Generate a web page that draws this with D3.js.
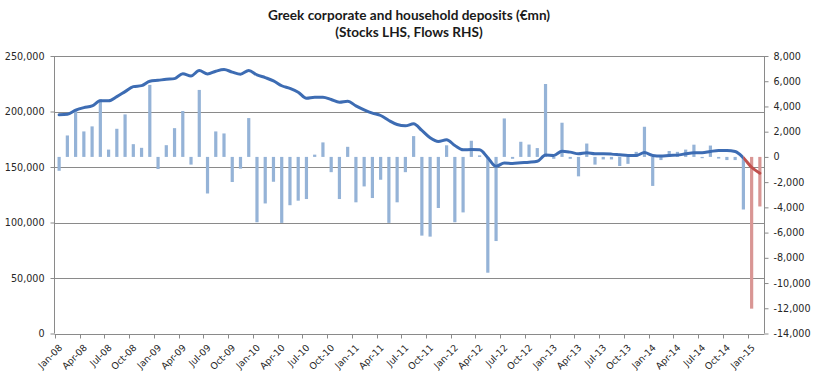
<!DOCTYPE html>
<html>
<head>
<meta charset="utf-8">
<script src="https://cdn.jsdelivr.net/npm/d3@7"></script>
<style>
  html, body { margin: 0; padding: 0; background: #fff; }
  svg { display: block; }
</style>
</head>
<body>
<svg id="chart" width="819" height="381"></svg>
<script>
// ---------------- DATA ----------------
const months = [
  "Jan-08","Feb-08","Mar-08","Apr-08","May-08","Jun-08","Jul-08","Aug-08","Sep-08","Oct-08","Nov-08","Dec-08",
  "Jan-09","Feb-09","Mar-09","Apr-09","May-09","Jun-09","Jul-09","Aug-09","Sep-09","Oct-09","Nov-09","Dec-09",
  "Jan-10","Feb-10","Mar-10","Apr-10","May-10","Jun-10","Jul-10","Aug-10","Sep-10","Oct-10","Nov-10","Dec-10",
  "Jan-11","Feb-11","Mar-11","Apr-11","May-11","Jun-11","Jul-11","Aug-11","Sep-11","Oct-11","Nov-11","Dec-11",
  "Jan-12","Feb-12","Mar-12","Apr-12","May-12","Jun-12","Jul-12","Aug-12","Sep-12","Oct-12","Nov-12","Dec-12",
  "Jan-13","Feb-13","Mar-13","Apr-13","May-13","Jun-13","Jul-13","Aug-13","Sep-13","Oct-13","Nov-13","Dec-13",
  "Jan-14","Feb-14","Mar-14","Apr-14","May-14","Jun-14","Jul-14","Aug-14","Sep-14","Oct-14","Nov-14","Dec-14",
  "Jan-15","Feb-15"
];

// Stocks (LHS, EUR mn)
const stocks = [
  197000,197500,201200,203500,205000,209600,209600,213400,217900,222400,223300,227300,
  228100,229000,229600,234000,232000,236900,233800,236300,237800,235500,233600,236900,
  233000,230500,227600,223200,220800,217400,212000,212900,212900,210800,208400,209300,
  205100,201500,198500,196400,191900,188300,187100,188900,182900,176300,173000,174500,
  169400,165500,165700,165500,158300,150600,153700,153200,153800,154300,155100,160700,
  160400,164300,163400,161900,162800,161900,161900,161600,161000,160400,160400,163000,
  160400,159800,160400,160700,161900,162800,162800,164000,164900,164900,164000,158300,
  149800,144400
];

// Flows (RHS, EUR mn)
const flows = [
  -1100,1700,3690,2020,2420,4570,580,2230,3370,1010,720,5710,
  -960,930,2280,3640,-610,5310,-2900,2020,1860,-1990,-930,3080,
  -5180,-3690,-1970,-5230,-3830,-3470,-3340,180,1150,-1210,-3340,800,
  -3600,-2340,-3260,-1810,-5230,-3600,-1210,1650,-6240,-6320,-4050,920,
  -5180,-4400,1280,120,-9180,-6670,3050,-150,1200,980,700,5780,
  -150,2710,-150,-1540,1060,-610,-200,-200,-720,-550,400,2390,
  -2300,-250,470,400,580,970,-100,900,-130,-250,-250,-4170,
  -12030,-3930
];

// months drawn in red (latest observations)
const highlighted = ["Jan-15","Feb-15"];
const lineHighlightFrom = "Dec-14";

const xTickLabels = months.filter((m, i) => i % 3 === 0);
const leftTicks = [0, 50000, 100000, 150000, 200000, 250000];
const rightTicks = [-14000,-12000,-10000,-8000,-6000,-4000,-2000,0,2000,4000,6000,8000];

const titleLines = ["Greek corporate and household deposits (\u20ACmn)", "(Stocks LHS, Flows RHS)"];

// ---------------- CHART ----------------
const svg = d3.select("#chart");
const plot = { left: 55, right: 764, top: 56, bottom: 333.5 };

const fmt = d3.formatLocale({decimal: ".", thousands: ",", grouping: [3], currency: ["", ""], minus: "-"}).format(",");

const x = d3.scaleBand().domain(months).range([plot.left, plot.right]).paddingInner(0).paddingOuter(0);
const cx = m => x(m) + x.bandwidth() / 2;
const yL = d3.scaleLinear().domain([0, 250000]).range([plot.bottom, plot.top]);
const yR = d3.scaleLinear().domain([-14000, 8000]).range([plot.bottom, plot.top]);

const gridColor = "#8a8a8a";
const textColor = "#262626";
const fontFam = "'DejaVu Sans', Verdana, sans-serif";

// Title
svg.append("g").selectAll("text").data(titleLines).join("text")
  .attr("x", 409).attr("y", (d, i) => 20 + i * 16.5)
  .attr("text-anchor", "middle")
  .style("font-family", "Lato, 'Open Sans', sans-serif")
  .style("font-weight", "bold")
  .style("font-size", "13.6px")
  .style("fill", "#1a1a1a")
  .text(d => d);

// Gridlines
svg.append("g").selectAll("line").data(leftTicks.filter(t => t > 0)).join("line")
  .attr("x1", plot.left).attr("x2", plot.right)
  .attr("y1", d => Math.round(yL(d)) + 0.5).attr("y2", d => Math.round(yL(d)) + 0.5)
  .attr("stroke", gridColor).attr("stroke-width", 1);

// Bars (flows, RHS)
const barW = 3.2;
svg.append("g").selectAll("rect").data(months).join("rect")
  .attr("x", m => cx(m) - barW / 2)
  .attr("width", barW)
  .attr("y", (m, i) => Math.min(yR(0), yR(flows[i])))
  .attr("height", (m, i) => Math.abs(yR(flows[i]) - yR(0)))
  .attr("fill", m => highlighted.includes(m) ? "#d99694" : "#95b3d7");

// Stock line (LHS)
const lineGen = d3.line().x((d, i) => cx(months[i])).y(d => yL(d)).curve(d3.curveMonotoneX);
const splitX = cx(lineHighlightFrom);
const defs = svg.append("defs");
defs.append("clipPath").attr("id", "clipBlue").append("rect")
  .attr("x", 0).attr("y", 0).attr("width", splitX).attr("height", 381);
defs.append("clipPath").attr("id", "clipRed").append("rect")
  .attr("x", splitX).attr("y", 0).attr("width", 819 - splitX).attr("height", 381);

svg.append("path").datum(stocks).attr("d", lineGen)
  .attr("fill", "none").attr("stroke", "#3d6cb3").attr("stroke-width", 3)
  .attr("stroke-linejoin", "round").attr("stroke-linecap", "round")
  .attr("clip-path", "url(#clipBlue)");
svg.append("path").datum(stocks).attr("d", lineGen)
  .attr("fill", "none").attr("stroke", "#c0504d").attr("stroke-width", 3)
  .attr("stroke-linejoin", "round").attr("stroke-linecap", "round")
  .attr("clip-path", "url(#clipRed)");

// Left axis
const axL = svg.append("g").attr("transform", `translate(${plot.left - 0.5},0)`)
  .call(d3.axisLeft(yL).tickValues(leftTicks).tickFormat(fmt).tickSize(4).tickPadding(6));
// Right axis
const axR = svg.append("g").attr("transform", `translate(${plot.right + 0.5},0)`)
  .call(d3.axisRight(yR).tickValues(rightTicks).tickFormat(fmt).tickSize(4).tickPadding(5));
[axL, axR].forEach(a => {
  a.select(".domain").attr("stroke", gridColor).attr("d", `M0,${plot.top}V${plot.bottom}`);
  a.selectAll(".tick line").attr("stroke", gridColor);
  a.selectAll(".tick text").style("font-family", fontFam).style("font-size", "9.6px").style("fill", textColor);
});

// Bottom axis
const axB = svg.append("g");
axB.append("line").attr("x1", plot.left - 0.5).attr("x2", plot.right + 0.5)
  .attr("y1", Math.round(plot.bottom) + 0.5).attr("y2", Math.round(plot.bottom) + 0.5)
  .attr("stroke", gridColor);
axB.selectAll("line.tk").data(xTickLabels).join("line").attr("class", "tk")
  .attr("x1", m => Math.round(x(m)) + 0.5).attr("x2", m => Math.round(x(m)) + 0.5)
  .attr("y1", Math.round(plot.bottom) + 0.5).attr("y2", Math.round(plot.bottom) + 4.5)
  .attr("stroke", gridColor);
axB.selectAll("text").data(xTickLabels).join("text")
  .attr("transform", m => `translate(${cx(m) + 1.5},${346}) rotate(-45)`)
  .attr("text-anchor", "end").attr("dy", "0.35em")
  .style("font-family", fontFam).style("font-size", "9.3px").style("fill", textColor)
  .text(m => m);
</script>
</body>
</html>
